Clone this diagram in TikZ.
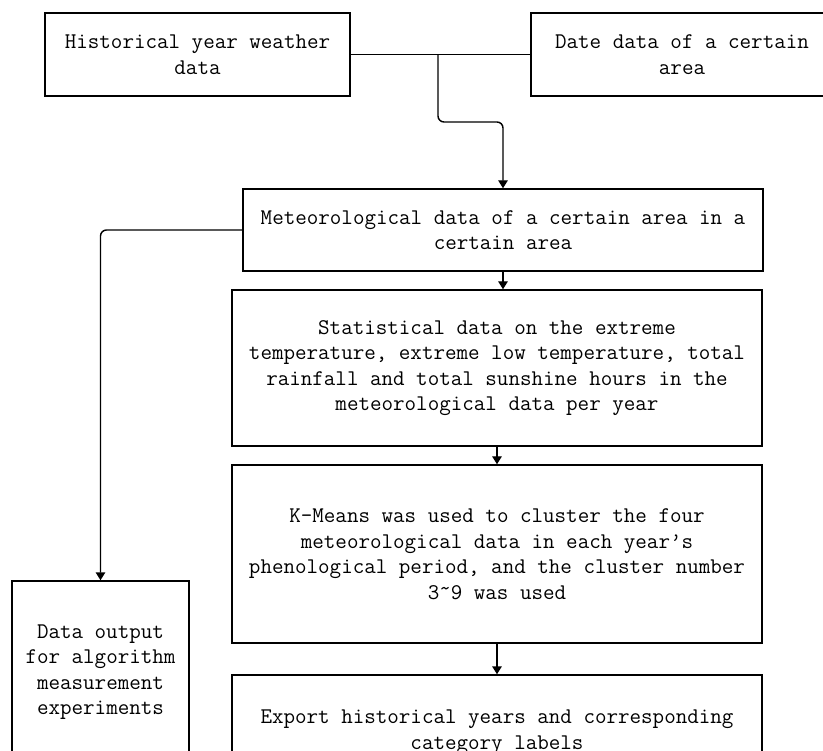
\documentclass[tikz,border=0pt]{standalone}
\usepackage{fontspec}
\usetikzlibrary{arrows.meta}
\tikzset{
  box/.style={draw, line width=1.4pt, inner sep=0pt, align=center,
    font=\ttfamily\fontsize{22.4pt}{25.5pt}\selectfont},
  conn/.style={line width=1.4pt},
  arr/.style={conn, -{Triangle[length=8pt,width=9.5pt]}}
}
\begin{document}
\begin{tikzpicture}[x=1pt,y=-1pt]
\useasboundingbox (0,0) rectangle (823,751);
\node[box, minimum width=305pt, minimum height=83pt] (b1) at (197.5,54.5) {Historical year weather\\data};
\node[box, minimum width=302pt, minimum height=83pt] (b2) at (682,54.5) {Date data of a certain\\area};
\node[box, minimum width=520pt, minimum height=82pt] (b3) at (503,230) {Meteorological data of a certain area in a\\certain area};
\node[box, minimum width=530pt, minimum height=156pt] (b4) at (497,368) {Statistical data on the extreme\\temperature, extreme low temperature, total\\rainfall and total sunshine hours in the\\meteorological data per year};
\node[box, minimum width=530pt, minimum height=178pt] (b5) at (497,554) {K-Means was used to cluster the four\\meteorological data in each year’s\\phenological period, and the cluster number\\3\raisebox{0.35ex}{\textasciitilde}9 was used};
\node[box, minimum width=177pt, minimum height=182pt] (b6) at (100.5,672) {Data output\\for algorithm\\measurement\\experiments};
\node[box, minimum width=530pt, minimum height=114pt] (b7) at (497,732) {Export historical years and corresponding\\category labels};
\draw[conn] (b1.east) -- (b2.west);
\coordinate (j) at (438,54.5);
\draw[arr, rounded corners=6pt] (j) -- ++(0,67.5) -| (b3.north);
\draw[arr, rounded corners=6pt] (b3.west) -| (b6.north);
\draw[arr] (b3.south) -- (b3.south |- b4.north);
\draw[arr] (b4.south) -- (b5.north);
\draw[arr] (b5.south) -- (b7.north);
\end{tikzpicture}
\end{document}
